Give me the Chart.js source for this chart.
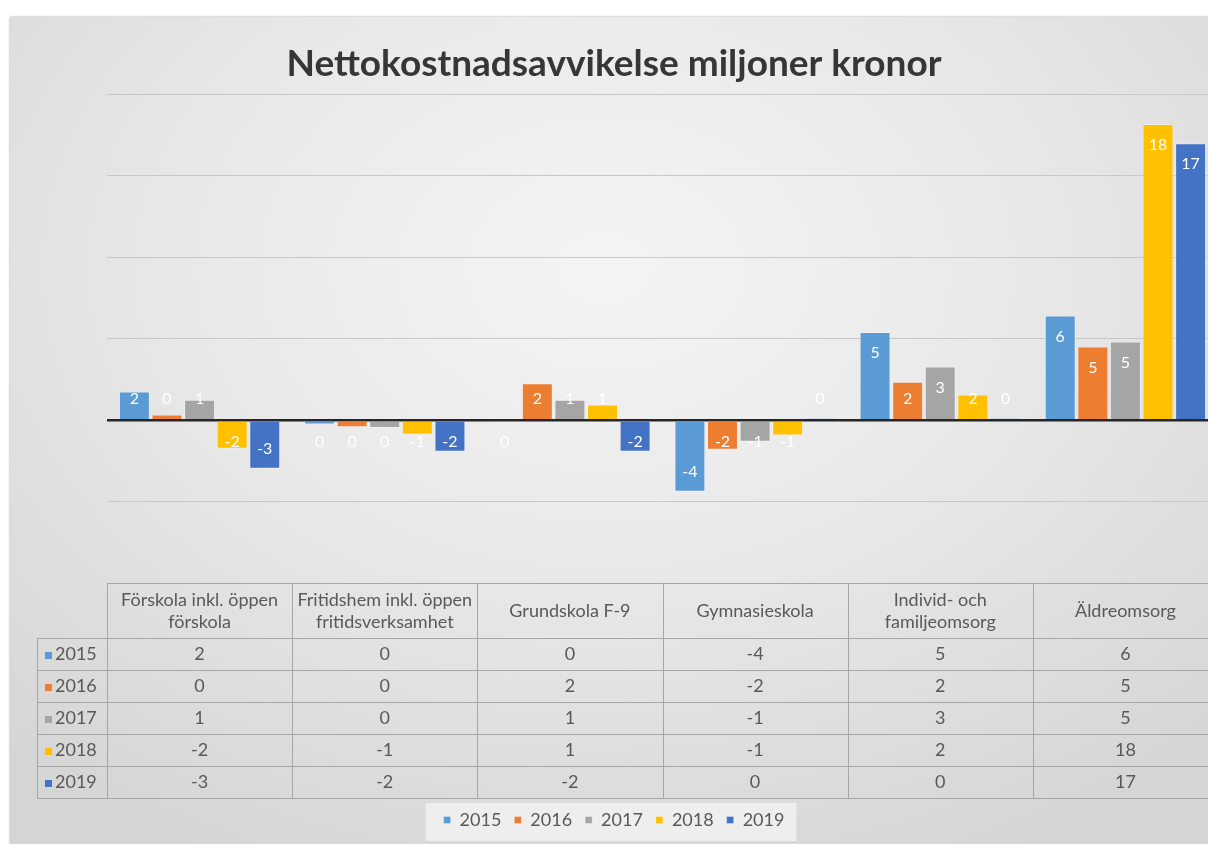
<!DOCTYPE html>
<html>
<head>
<meta charset="utf-8">
<title>Nettokostnadsavvikelse</title>
<script src="https://cdn.jsdelivr.net/npm/chart.js@4.4.1/dist/chart.umd.min.js"></script>
<style>
    html, body { margin: 0; padding: 0; background: #fff; width: 1208px; height: 844px; overflow: hidden; }
    #ram {
        position: absolute; left: 10px; top: 17px; width: 1240px; height: 840px;
        background: radial-gradient(ellipse 72% 78% at 48% 30%, #f4f4f4 0%, #e9e9e9 45%, #d5d5d5 100%);
        box-shadow: 0 0 2px #9a9a9a;
    }
    #diagram { position: absolute; left: 10px; top: 0; }
</style>
</head>
<body>
<div id="ram"></div>
<canvas id="diagram" width="1208" height="844"></canvas>
<script>
    // kategorier (x-axel och tabellhuvud)
    var Kategorier = [
        ["Förskola inkl. öppen", "förskola"],
        ["Fritidshem inkl. öppen", "fritidsverksamhet"],
        "Grundskola F-9",
        "Gymnasieskola",
        ["Individ- och", "familjeomsorg"],
        "Äldreomsorg"
    ];
    var Ar = ['2015', '2016', '2017', '2018', '2019'];

    // avvikelse, miljoner kronor (avläst från staplarna)
    var Varden2015 = [1.76, -0.27, -0.1, -4.39, 5.41, 6.43];
    var Varden2016 = [0.34, -0.43, 2.27, -1.82, 2.36, 4.52];
    var Varden2017 = [1.25, -0.48, 1.25, -1.32, 3.29, 4.83];
    var Varden2018 = [-1.75, -0.89, 0.96, -0.95, 1.57, 18.18];
    var Varden2019 = [-2.98, -1.94, -1.94, 0.1, 0.1, 17.0];

    var Farger = ['#5B9BD5', '#ED7D31', '#A5A5A5', '#FFC000', '#4472C4'];
    var YMin = -10, YMax = 20, YSteg = 5;

    var Serier = [Varden2015, Varden2016, Varden2017, Varden2018, Varden2019];
    var TextFarg = '#595959';

    function Avrunda(v) {
        return String(Math.round(v) + 0);
    }

    // vita dataetiketter, "inuti slutet" som i Excel
    var EtikettPlugin = {
        id: 'etiketter',
        afterDatasetsDraw: function (chart) {
            var ctx = chart.ctx;
            var y0 = chart.scales.y.getPixelForValue(0);
            ctx.save();
            ctx.font = '16px Lato';
            ctx.fillStyle = '#ffffff';
            ctx.textAlign = 'center';
            ctx.textBaseline = 'middle';
            chart.data.datasets.forEach(function (ds, i) {
                chart.getDatasetMeta(i).data.forEach(function (bar, j) {
                    var v = ds.data[j];
                    var y = v >= 0 ? Math.min(bar.y + 21, y0 - 21) : Math.max(bar.y - 20, y0 + 22);
                    ctx.fillText(Avrunda(v), bar.x, y);
                });
            });
            ctx.restore();
        }
    };

    // datatabell under diagrammet
    var TabellPlugin = {
        id: 'datatabell',
        beforeDraw: function (chart) {
            // ljus ruta bakom förklaringen
            var lg = chart.legend;
            if (!lg || !lg.legendHitBoxes || !lg.legendHitBoxes.length) return;
            var hb = lg.legendHitBoxes;
            var l = hb[0].left, r = hb[hb.length - 1].left + hb[hb.length - 1].width;
            var cy = hb[0].top + hb[0].height / 2;
            var ctx = chart.ctx;
            ctx.save();
            ctx.fillStyle = 'rgba(244,244,244,0.75)';
            ctx.fillRect(l - 18, cy - 17, r - l + 30, 38);
            ctx.restore();
        },
        afterDraw: function (chart) {
            var ctx = chart.ctx, xs = chart.scales.x, area = chart.chartArea;
            var colW = (area.right - area.left) / Kategorier.length;
            var top = Math.round(area.bottom) + 0.5, headH = 55, rowH = 32;
            var radVanster = 27.5;
            var botten = top + headH + rowH * Ar.length;
            var i;

            ctx.save();
            ctx.strokeStyle = '#a6a6a6';
            ctx.lineWidth = 1;
            ctx.beginPath();
            ctx.moveTo(area.left, top);
            ctx.lineTo(area.right, top);
            for (i = 0; i <= Ar.length; i++) {
                ctx.moveTo(radVanster, top + headH + i * rowH);
                ctx.lineTo(area.right, top + headH + i * rowH);
            }
            ctx.moveTo(radVanster, top + headH);
            ctx.lineTo(radVanster, botten);
            for (i = 0; i <= Kategorier.length; i++) {
                var x = Math.round(area.left + i * colW) + 0.5;
                ctx.moveTo(x, top);
                ctx.lineTo(x, botten);
            }
            ctx.stroke();

            ctx.fillStyle = TextFarg;
            ctx.font = '18px Lato';
            ctx.textAlign = 'center';
            ctx.textBaseline = 'middle';
            Kategorier.forEach(function (k, c) {
                var rader = Array.isArray(k) ? k : [k];
                var cx = xs.getPixelForTick(c);
                var y = top + headH / 2 - (rader.length - 1) * 22 / 2;
                rader.forEach(function (t, n) {
                    ctx.fillText(t, cx, y + n * 22);
                });
            });

            Serier.forEach(function (s, r) {
                var cy = top + headH + r * rowH + rowH / 2;
                ctx.fillStyle = Farger[r];
                ctx.fillRect(35, Math.round(cy) - 3, 7, 7);
                ctx.fillStyle = TextFarg;
                ctx.textAlign = 'left';
                ctx.fillText(Ar[r], 45, cy);
                ctx.textAlign = 'center';
                s.forEach(function (v, c) {
                    ctx.fillText(Avrunda(v), xs.getPixelForTick(c), cy);
                });
            });
            ctx.restore();
        }
    };

    var ctx = document.getElementById('diagram').getContext('2d');
    window.MyChartAvvikelse = new Chart(ctx, {
        type: 'bar',
        data: {
            labels: Kategorier,
            datasets: Ar.map(function (ar, i) {
                return {
                    label: ar,
                    data: Serier[i],
                    backgroundColor: Farger[i],
                    borderColor: 'rgba(255,255,255,0.3)',
                    borderWidth: 1,
                    barPercentage: 0.95,
                    categoryPercentage: 0.88
                };
            })
        },
        options: {
            responsive: false,
            animation: false,
            devicePixelRatio: 1,
            layout: { padding: { top: 0, left: 0, right: 0, bottom: 5 } },
            plugins: {
                title: {
                    display: true,
                    text: 'Nettokostnadsavvikelse miljoner kronor',
                    color: '#363636',
                    font: { family: 'Lato', size: 37, weight: 'bold' },
                    padding: { top: 42, bottom: 8 }
                },
                legend: {
                    display: true,
                    position: 'bottom',
                    labels: {
                        boxWidth: 7,
                        boxHeight: 7,
                        padding: 13,
                        color: TextFarg,
                        font: { family: 'Lato', size: 18 }
                    }
                },
                tooltip: { enabled: false }
            },
            scales: {
                x: {
                    grid: { display: false },
                    border: { display: false },
                    ticks: { display: false },
                    afterFit: function (scale) { scale.height = 215; }
                },
                y: {
                    min: YMin,
                    max: YMax,
                    ticks: { display: false, stepSize: YSteg },
                    border: { display: false },
                    grid: {
                        drawTicks: false,
                        color: function (c) { return c.tick && c.tick.value === 0 ? '#262626' : '#c8c8c8'; },
                        lineWidth: function (c) { return c.tick && c.tick.value === 0 ? 2.5 : 1; }
                    },
                    afterFit: function (scale) { scale.width = 97; }
                }
            }
        },
        plugins: [EtikettPlugin, TabellPlugin]
    });
</script>
</body>
</html>
